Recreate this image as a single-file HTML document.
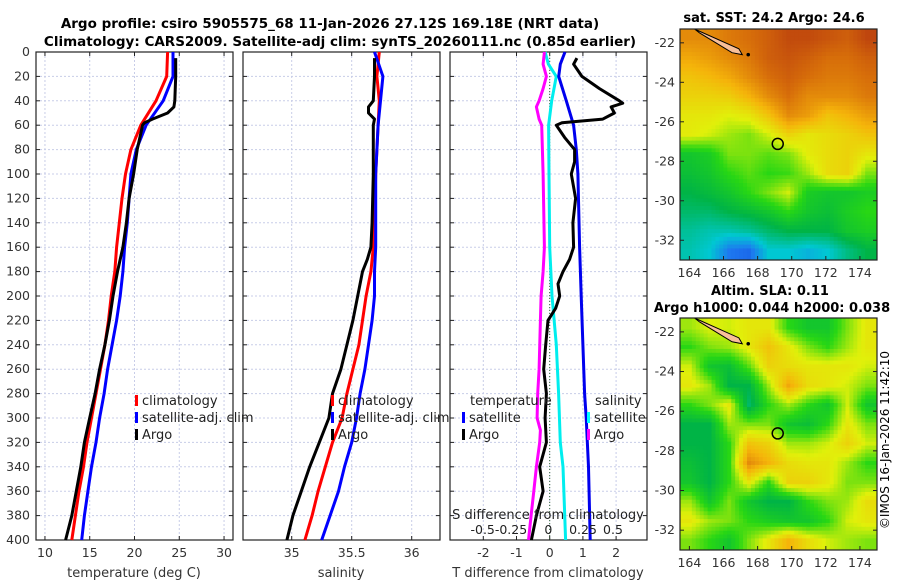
<!DOCTYPE html>
<html><head><meta charset="utf-8"><style>
body{margin:0;background:#fff}
svg{display:block;font-family:"DejaVu Sans","Liberation Sans",sans-serif}
</style></head><body>
<svg id="fig" width="900" height="580">
<defs>
<clipPath id="c1"><rect x="680" y="29" width="197" height="231"/></clipPath>
<clipPath id="c2"><rect x="680" y="318" width="197" height="232"/></clipPath></defs>
<text x="330" y="28" text-anchor="middle" font-size="13.5" font-weight="bold">Argo profile: csiro 5905575_68 11-Jan-2026 27.12S 169.18E (NRT data)</text>
<text x="340" y="46" text-anchor="middle" font-size="13.5" font-weight="bold">Climatology: CARS2009. Satellite-adj clim: synTS_20260111.nc (0.85d earlier)</text>
<g id="g"></g>
<text x="889" y="440" font-size="12" transform="rotate(-90 889 440)" text-anchor="middle">©IMOS 16-Jan-2026 11:42:10</text>
</svg>
<script>
const depths=[0,20,40,60,80,100,120,140,160,180,200,220,240,260,280,300,320,340,360,380,400];
const tClim=[23.7,23.6,22.4,20.7,19.6,19.0,18.6,18.3,18.0,17.8,17.4,17.1,16.7,16.2,15.7,15.2,14.7,14.3,13.8,13.4,13.0];
const tSat=[24.3,24.3,23.2,21.3,20.2,19.6,19.4,19.2,18.9,18.7,18.4,18.0,17.5,17.0,16.6,16.1,15.7,15.2,14.8,14.4,14.1];
const argoDepths=[5,20,40,45,50,55,58,60,80,100,120,140,160,180,200,220,240,260,280,300,320,340,360,380,400];
const tArgo=[24.6,24.6,24.5,24.4,23.7,22.0,21.1,20.9,20.3,19.9,19.4,19.1,18.7,18.1,17.6,17.2,16.7,16.1,15.6,15.0,14.4,14.0,13.5,13.0,12.3];
const sDepths=[0,20,40,60,100,140,160,180,200,220,240,260,280,300,320,340,360,380,400];
const sClim=[35.73,35.71,35.73,35.72,35.70,35.69,35.68,35.66,35.62,35.59,35.56,35.51,35.46,35.42,35.34,35.28,35.22,35.17,35.11];
const sSat=[35.69,35.76,35.74,35.72,35.70,35.70,35.70,35.69,35.69,35.67,35.64,35.61,35.57,35.54,35.50,35.44,35.39,35.32,35.25];
const sArgoDepths=[5,20,40,45,50,55,60,100,140,160,170,180,200,220,240,260,280,300,320,340,360,380,400];
const sArgo=[35.69,35.69,35.68,35.64,35.64,35.69,35.68,35.68,35.67,35.66,35.63,35.59,35.55,35.51,35.46,35.41,35.34,35.31,35.23,35.15,35.08,35.01,34.96];
const dTSatDepths=[0,10,20,40,60,80,100,160,200,240,280,300,340,400];
const dTSat=[0.46,0.32,0.27,0.5,0.72,0.8,0.85,0.9,0.95,1.0,1.05,1.1,1.17,1.22];
const dTArgoDepths=[5,10,20,30,40,42,45,50,55,58,60,70,80,90,100,120,140,160,170,180,190,200,210,220,240,260,280,300,320,340,360,380,400];
const dTArgo=[0.82,0.72,0.97,1.5,2.1,2.2,1.85,1.95,1.6,0.37,0.2,0.45,0.75,0.75,0.65,0.78,0.7,0.72,0.6,0.4,0.25,0.3,0.18,-0.05,-0.12,-0.18,-0.1,-0.14,-0.1,-0.3,-0.2,-0.4,-0.55];
const dSSatDepths=[0,10,20,40,60,100,160,200,240,280,320,340,400];
const dSSat=[-0.035,-0.01,0.05,0.015,-0.008,-0.005,0,0.017,0.05,0.067,0.08,0.1,0.12];
const dSArgoDepths=[0,10,20,30,40,45,55,60,100,160,180,200,220,260,280,300,310,320,340,360,380,400];
const dSArgo=[-0.04,-0.05,-0.025,-0.05,-0.08,-0.1,-0.08,-0.06,-0.05,-0.04,-0.05,-0.065,-0.07,-0.08,-0.09,-0.095,-0.07,-0.075,-0.1,-0.12,-0.14,-0.16];
const depthTicks=[0,20,40,60,80,100,120,140,160,180,200,220,240,260,280,300,320,340,360,380,400];
const tTicks=[10,15,20,25,30], sTicks=[35,35.5,36], dTTicks=[-2,-1,0,1,2], dSTicks=[-0.5,-0.25,0,0.25,0.5];
const dSTickLabels=['-0.5','-0.25','0','0.25','0.5'];
const sstGrid=[[.85,.85,.88,.9,.93,.97,.97,.95,.93,.98],[.8,.82,.85,.88,.93,.95,.93,.9,.9,.93],[.75,.77,.8,.85,.9,.93,.9,.88,.88,.9],[.72,.72,.73,.78,.85,.9,.85,.85,.85,.88],[.68,.68,.66,.68,.75,.85,.82,.75,.78,.82],[.67,.65,.62,.6,.65,.72,.68,.7,.72,.75],[.5,.52,.6,.6,.58,.6,.67,.7,.72,.68],[.48,.5,.55,.58,.55,.56,.62,.7,.72,.6],[.45,.47,.5,.55,.6,.65,.52,.5,.5,.52],[.42,.42,.45,.47,.5,.55,.5,.48,.52,.55],[.38,.36,.36,.38,.42,.45,.45,.45,.5,.52],[.36,.33,.22,.2,.33,.33,.3,.33,.4,.45]];
const slaGrid=[[.62,.66,.65,.68,.68,.55,.5,.5,.6,.68],[.55,.6,.62,.68,.75,.68,.6,.55,.62,.68],[.65,.5,.48,.58,.72,.7,.68,.68,.68,.65],[.68,.62,.45,.45,.62,.8,.7,.68,.65,.6],[.55,.6,.68,.42,.55,.62,.55,.5,.65,.5],[.45,.45,.62,.6,.6,.5,.48,.55,.68,.6],[.45,.45,.55,.75,.72,.62,.62,.65,.72,.65],[.48,.45,.55,.85,.78,.7,.68,.68,.62,.55],[.5,.45,.55,.68,.55,.72,.72,.68,.6,.6],[.62,.5,.6,.5,.45,.45,.55,.6,.62,.7],[.68,.62,.6,.55,.52,.5,.5,.55,.65,.68],[.6,.55,.5,.6,.68,.78,.7,.65,.62,.6]];
const lonTicks=[164,166,168,170,172,174], latTicks=[-22,-24,-26,-28,-30,-32];
const argoLon=169.18, argoLat=-27.12;

const NS='http://www.w3.org/2000/svg', G=document.getElementById('g');
function el(t,a,p){const e=document.createElementNS(NS,t);for(const k in a)e.setAttribute(k,a[k]);(p||G).appendChild(e);return e;}
function txt(x,y,s,a,name){const e=el('text',Object.assign({x:x,y:y,'font-size':12.5},a||{}));e.textContent=s;

return e;}
const Y0=52,Y1=540; const yD=d=>Y0+(d/400)*(Y1-Y0);
function lin(d0,d1,r0,r1){return v=>r0+(v-d0)/(d1-d0)*(r1-r0);}
function panel(x0,x1,xs,xticks,labels,name){
  const g=el('g',{});
  
  
  depthTicks.forEach(d=>{el('line',{x1:x0,x2:x1,y1:yD(d),y2:yD(d),stroke:'#c8cde8','stroke-dasharray':'2,2','stroke-width':1},g);
    el('line',{x1:x0,x2:x0+4,y1:yD(d),y2:yD(d),stroke:'#222'},g);el('line',{x1:x1-4,x2:x1,y1:yD(d),y2:yD(d),stroke:'#222'},g);});
  xticks.forEach((t,i)=>{const X=xs(t);el('line',{x1:X,x2:X,y1:Y0,y2:Y1,stroke:'#c8cde8','stroke-dasharray':'2,2'},g);
    el('line',{x1:X,x2:X,y1:Y1-4,y2:Y1,stroke:'#222'},g);el('line',{x1:X,x2:X,y1:Y0,y2:Y0+4,stroke:'#222'},g);
    if(labels) txt(X,557,labels[i],{'text-anchor':'middle',fill:'#333'},'x-tick-label');});
  el('rect',{x:x0,y:Y0,width:x1-x0,height:Y1-Y0,fill:'none',stroke:'#222','stroke-width':1.2},g);
}
function line(xs,vals,ds,color,name,w){
  const p=vals.map((v,i)=>(i?'L':'M')+xs(v).toFixed(1)+','+yD(ds[i]).toFixed(1)).join('');
  const e=el('path',{d:p,fill:'none',stroke:color,'stroke-width':w||3,'stroke-linejoin':'round'});
  
  
}
// Panel 1
const xT=lin(9,31,36,233);
panel(36,233,xT,tTicks,tTicks.map(String),'temperature-panel');
depthTicks.forEach(d=>txt(30,yD(d)+4,String(d),{'text-anchor':'end',fill:'#333'},'y-tick-label'));
line(xT,tClim,depths,'#f00','temp-climatology-line');
line(xT,tSat,depths,'#00f','temp-satellite-line');
line(xT,tArgo,argoDepths,'#000','temp-argo-line');
txt(134,577,'temperature (deg C)',{'text-anchor':'middle','font-size':13,fill:'#333'},'x-axis-title-temperature');
// Panel 2
const xS=lin(35,35.5,291.7,351.7);
panel(243,440,xS,sTicks,['35','35.5','36'],'salinity-panel');
line(xS,sClim,sDepths,'#f00','sal-climatology-line');
line(xS,sSat,sDepths,'#00f','sal-satellite-line');
line(xS,sArgo,sArgoDepths,'#000','sal-argo-line');
txt(341,577,'salinity',{'text-anchor':'middle','font-size':13,fill:'#333'},'x-axis-title-salinity');
// legends
function leg(x,y,color,label,name){el('rect',{x:x,y:y-10,width:3,height:11,fill:color});txt(x+7,y,label,{fill:'#222','font-size':13},name);}
[['climatology','#f00'],['satellite-adj. clim','#00f'],['Argo','#000']].forEach((r,i)=>leg(135,405+i*17,r[1],r[0],'legend-entry-temp-'+i));
[['climatology','#f00'],['satellite-adj. clim','#00f'],['Argo','#000']].forEach((r,i)=>leg(331,405+i*17,r[1],r[0],'legend-entry-sal-'+i));
// Panel 3
const xDT=lin(0,1,549.7,582.9), xDS=v=>xDT(v*4);
panel(450,647,xDT,dTTicks,dTTicks.map(String),'difference-panel');
el('line',{x1:xDT(0),x2:xDT(0),y1:Y0,y2:Y1,stroke:'#363','stroke-dasharray':'1,2'});
line(xDS,dSSat,dSSatDepths,'#0ee','sal-diff-satellite-line');
line(xDS,dSArgo,dSArgoDepths,'#f0f','sal-diff-argo-line');
line(xDT,dTSat,dTSatDepths,'#00e','temp-diff-satellite-line');
line(xDT,dTArgo,dTArgoDepths,'#000','temp-diff-argo-line');
txt(470,405,'temperature',{fill:'#222','font-size':13},'legend-title-temperature');
leg(462,422,'#00f','satellite','legend-temp-diff-satellite');leg(462,439,'#000','Argo','legend-temp-diff-argo');
txt(595,405,'salinity',{fill:'#222','font-size':13},'legend-title-salinity');
leg(587,422,'#0ff','satellite','legend-sal-diff-satellite');leg(587,439,'#f0f','Argo','legend-sal-diff-argo');
txt(548,519,'S difference from climatology',{'text-anchor':'middle','font-size':13,fill:'#222'},'s-axis-title');
const dSLabX=[482.7,511,548.3,583,613];
dSTicks.forEach((t,i)=>txt(dSLabX[i],534,dSTickLabels[i],{'text-anchor':'middle',fill:'#222'},'s-tick-label'));
txt(548,577,'T difference from climatology',{'text-anchor':'middle','font-size':13,fill:'#333'},'x-axis-title-tdiff');
// Maps
function cmap(v){const st=[[0,[0,40,200]],[.15,[20,70,220]],[.22,[30,120,240]],[.33,[0,200,210]],[.45,[0,180,70]],[.55,[40,215,20]],[.66,[225,240,10]],[.78,[245,180,10]],[.9,[215,110,10]],[1,[185,60,15]]];
 for(let i=1;i<st.length;i++){if(v<=st[i][0]){const a=st[i-1],b=st[i],f=(v-a[0])/(b[0]-a[0]);return 'rgb('+a[1].map((c,k)=>Math.round(c+f*(b[1][k]-c))).join(',')+')';}}return 'rgb(185,60,15)';}
function sample(grid,fr,fc){const R=grid.length,C=grid[0].length;
  const r=Math.max(0,Math.min(R-1,fr)),c=Math.max(0,Math.min(C-1,fc));
  const r0=Math.floor(r),c0=Math.floor(c),r1=Math.min(R-1,r0+1),c1=Math.min(C-1,c0+1),a=r-r0,b=c-c0;
  return grid[r0][c0]*(1-a)*(1-b)+grid[r0][c1]*(1-a)*b+grid[r1][c0]*a*(1-b)+grid[r1][c1]*a*b;}
function map(y0,y1,grid,clip,name){
  const g=el('g',{});
  
  
  const xl=lin(163.45,175,680,877), yl=lin(-21.3,-33,y0,y1);
  const inner=el('g',{'clip-path':'url(#'+clip+')'},g);
  const R=grid.length,C=grid[0].length,S=5,NR=R*S,NC=C*S,cw=197/NC,ch=(y1-y0)/NR;
  for(let i=0;i<NR;i++)for(let j=0;j<NC;j++){
    const v=sample(grid,(i+0.5)/S-0.5,(j+0.5)/S-0.5);
    const e=el('rect',{x:(680+j*cw).toFixed(2),y:(y0+i*ch).toFixed(2),width:(cw+0.6).toFixed(2),height:(ch+0.6).toFixed(2),fill:cmap(v)},inner);
    
    
  }
  el('path',{d:`M${xl(164.3)},${yl(-21.3)} L${xl(166.9)},${yl(-22.3)} L${xl(167.1)},${yl(-22.6)} L${xl(166.5)},${yl(-22.5)} L${xl(164.6)},${yl(-21.5)} Z`,fill:'#f8c09a',stroke:'#000','stroke-width':1},inner);
  el('circle',{cx:xl(167.45),cy:yl(-22.6),r:1.8,fill:'#000'},inner);
  el('circle',{cx:xl(argoLon),cy:yl(argoLat),r:5.5,fill:'none',stroke:'#000','stroke-width':1.5},g);
  el('rect',{x:680,y:y0,width:197,height:y1-y0,fill:'none',stroke:'#222','stroke-width':1.2},g);
  lonTicks.forEach(t=>{const X=xl(t);el('line',{x1:X,x2:X,y1:y1-4,y2:y1,stroke:'#222'},g);txt(X,y1+17,String(t),{'text-anchor':'middle',fill:'#333'},'lon-tick-label');});
  latTicks.forEach(t=>{const Y=yl(t);el('line',{x1:877,x2:873,y1:Y,y2:Y,stroke:'#222'},g);el('line',{x1:680,x2:684,y1:Y,y2:Y,stroke:'#222'},g);txt(675,Y+4,String(t),{'text-anchor':'end',fill:'#333'},'lat-tick-label');});
}
map(29,260,sstGrid,'c1','sst-map');
map(318,550,slaGrid,'c2','sla-map');
txt(774,22,'sat. SST: 24.2 Argo: 24.6',{'text-anchor':'middle','font-weight':'bold','font-size':13},'sst-map-title');
txt(770,295,'Altim. SLA: 0.11',{'text-anchor':'middle','font-weight':'bold','font-size':13},'sla-map-title');
txt(772,312,'Argo h1000: 0.044 h2000: 0.038',{'text-anchor':'middle','font-weight':'bold','font-size':13},'sla-map-subtitle');
</script>
</body></html>
